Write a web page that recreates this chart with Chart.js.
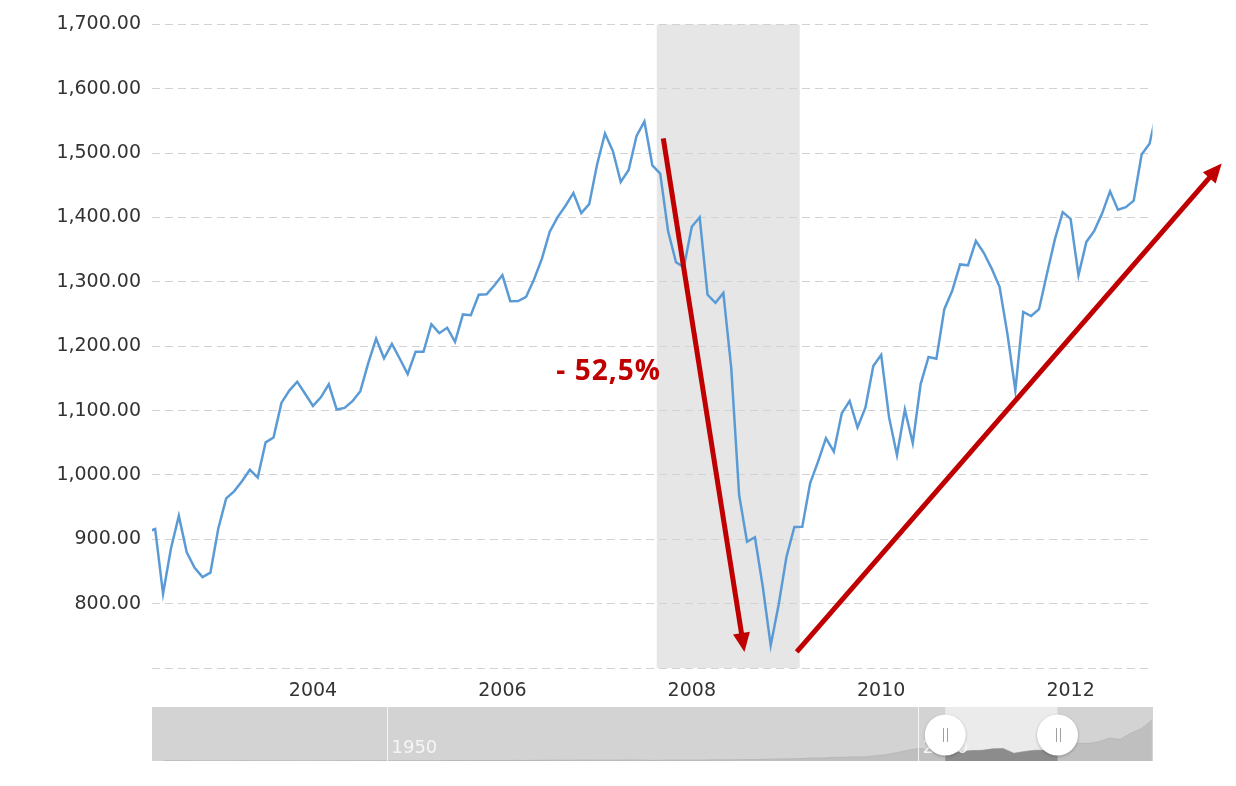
<!DOCTYPE html>
<html><head><meta charset="utf-8">
<script src="https://cdn.jsdelivr.net/npm/chart.js@4.4.1/dist/chart.umd.min.js"></script>
<style>
html,body{margin:0;padding:0;background:#fff;width:1236px;height:786px;overflow:hidden}
#main{position:absolute;left:0;top:0}
#nav{position:absolute;left:152px;top:707px}
</style></head><body>
<canvas id="main" width="1236" height="786"></canvas>
<canvas id="nav" width="1001" height="54"></canvas>
<script>
// ---- Monthly S&P 500 closes (first series starts July 2002) ----
const firstYear = 2002;
const firstMonth = 7;
const close2002 = [911.62, 916.07, 815.28, 885.76, 936.31, 879.82];
const close2003 = [855.70, 841.15, 848.18, 916.92, 963.59, 974.50, 990.31, 1008.01, 995.97, 1050.71, 1058.20, 1111.92];
const close2004 = [1131.13, 1144.94, 1126.21, 1107.30, 1120.68, 1140.84, 1101.72, 1104.24, 1114.58, 1130.20, 1173.82, 1211.92];
const close2005 = [1181.27, 1203.60, 1180.59, 1156.85, 1191.50, 1191.33, 1234.18, 1220.33, 1228.81, 1207.01, 1249.48, 1248.29];
const close2006 = [1280.08, 1280.66, 1294.87, 1310.61, 1270.09, 1270.20, 1276.66, 1303.82, 1335.85, 1377.94, 1400.63, 1418.30];
const close2007 = [1438.24, 1406.82, 1420.86, 1482.37, 1530.62, 1503.35, 1455.27, 1473.99, 1526.75, 1549.38, 1481.14, 1468.36];
const close2008 = [1378.55, 1330.63, 1322.70, 1385.59, 1400.38, 1280.00, 1267.38, 1282.83, 1166.36, 968.75, 896.24, 903.25];
const close2009 = [825.88, 735.09, 797.87, 872.81, 919.14, 919.32, 987.48, 1020.62, 1057.08, 1036.19, 1095.63, 1115.10];
const close2010 = [1073.87, 1104.49, 1169.43, 1186.69, 1089.41, 1030.71, 1101.60, 1049.33, 1141.20, 1183.26, 1180.55, 1257.64];
const close2011 = [1286.12, 1327.22, 1325.83, 1363.61, 1345.20, 1320.64, 1292.28, 1218.89, 1131.42, 1253.30, 1246.96, 1257.60];
const close2012 = [1312.41, 1365.68, 1408.47, 1397.91, 1310.33, 1362.16, 1379.32, 1406.58, 1440.67, 1412.16, 1416.18, 1426.19];
const close2013 = [1498.11, 1514.68, 1569.19];

// axis ticks
const yTickValues = [700, 800, 900, 1000, 1100, 1200, 1300, 1400, 1500, 1600, 1700];
const xTickYears = [2004, 2006, 2008, 2010, 2012];
const tickOffset = 0.25;           // labels sit a quarter year after Jan 1
const viewMin = 2002.55, viewMax = 2013.115;

// recession band and annotations
const recessionStart = 2007.88, recessionEnd = 2009.39;
const arrowDown = { from: [2007.949, 1523], to: [2008.806, 725] };
const arrowUp = { from: [2009.358, 725], to: [2013.846, 1484] };
const dropLabel = { text: '- 52,5%', at: [2006.82, 1147.6] };

// ---- Navigator: yearly closes (year-end) ----
const navStart = 1928;
const nav1920s = [24.35, 21.45];
const nav1930s = [15.34, 8.12, 6.89, 10.10, 9.50, 13.43, 17.18, 10.55, 13.21, 12.49];
const nav1940s = [10.58, 8.69, 9.77, 11.67, 13.28, 17.36, 15.30, 15.30, 15.20, 16.76];
const nav1950s = [20.41, 23.77, 26.57, 24.81, 35.98, 45.48, 46.67, 39.99, 55.21, 59.89];
const nav1960s = [58.11, 71.55, 63.10, 75.02, 84.75, 92.43, 80.33, 96.47, 103.86, 92.06];
const nav1970s = [92.15, 102.09, 118.05, 97.55, 68.56, 90.19, 107.46, 95.10, 96.11, 107.94];
const nav1980s = [135.76, 122.55, 140.64, 164.93, 167.24, 211.28, 242.17, 247.08, 277.72, 353.40];
const nav1990s = [330.22, 417.09, 435.71, 466.45, 459.27, 615.93, 740.74, 970.43, 1229.23, 1469.25];
const nav2000s = [1320.28, 1148.08, 879.82, 1111.92, 1211.92, 1248.29, 1418.30, 1468.36, 903.25, 1115.10];
const nav2010s = [1257.64, 1257.60, 1426.19, 1848.36, 2058.90, 2043.94, 2238.83, 2673.61, 2506.85, 3230.78];
const nav2020s = [3756.07, 4766.18];
const navTickYears = [1950, 2000];
const navMin = 1927.9, navMax = 2022.1;

// ---- build points ----
const mainPoints = [];
{
  let yr = firstYear, mo = firstMonth;
  [close2002, close2003, close2004, close2005, close2006, close2007, close2008,
   close2009, close2010, close2011, close2012, close2013].forEach(arr => arr.forEach(v => {
     mainPoints.push({ x: yr + (mo - 1) / 12, y: v });
     mo++; if (mo > 12) { mo = 1; yr++; }
  }));
}
const navPoints = [];
{
  let yr = navStart;
  [nav1920s, nav1930s, nav1940s, nav1950s, nav1960s, nav1970s, nav1980s, nav1990s,
   nav2000s, nav2010s, nav2020s].forEach(arr => arr.forEach(v => {
     navPoints.push({ x: yr + 1, y: v }); yr++;
  }));
}

const RED = '#c00000';
const AXIS_FONT = { family: '"DejaVu Sans", Verdana, sans-serif', size: 19 };

function drawArrow(ctx, x1, y1, x2, y2) {
  const ang = Math.atan2(y2 - y1, x2 - x1);
  const headLen = 19, headHalf = 8.5;
  const bx = x2 - headLen * Math.cos(ang), by = y2 - headLen * Math.sin(ang);
  ctx.save();
  ctx.strokeStyle = RED; ctx.lineWidth = 5; ctx.lineCap = 'butt';
  ctx.beginPath(); ctx.moveTo(x1, y1);
  ctx.lineTo(bx + 2 * Math.cos(ang), by + 2 * Math.sin(ang)); ctx.stroke();
  ctx.fillStyle = RED; ctx.beginPath();
  ctx.moveTo(x2, y2);
  ctx.lineTo(bx + headHalf * Math.sin(ang), by - headHalf * Math.cos(ang));
  ctx.lineTo(bx - headHalf * Math.sin(ang), by + headHalf * Math.cos(ang));
  ctx.closePath(); ctx.fill();
  ctx.restore();
}

const shadePlugin = {
  id: 'shade',
  beforeDraw(chart) {
    const { ctx, chartArea, scales: { x } } = chart;
    const x0 = x.getPixelForValue(recessionStart), x1 = x.getPixelForValue(recessionEnd);
    ctx.save();
    ctx.fillStyle = '#e6e6e6';
    ctx.fillRect(x0, chartArea.top, x1 - x0, chartArea.bottom - chartArea.top);
    ctx.restore();
  }
};
const annotatePlugin = {
  id: 'annotate',
  afterDraw(chart) {
    const { ctx, scales: { x, y } } = chart;
    [arrowDown, arrowUp].forEach(a => drawArrow(ctx,
      x.getPixelForValue(a.from[0]), y.getPixelForValue(a.from[1]),
      x.getPixelForValue(a.to[0]), y.getPixelForValue(a.to[1])));
    ctx.save();
    ctx.fillStyle = RED;
    ctx.font = 'bold 28px "Open Sans", sans-serif';
    try { ctx.letterSpacing = '1px'; } catch (e) {}
    ctx.textBaseline = 'alphabetic'; ctx.textAlign = 'left';
    ctx.fillText(dropLabel.text, x.getPixelForValue(dropLabel.at[0]), y.getPixelForValue(dropLabel.at[1]));
    ctx.restore();
  }
};

new Chart(document.getElementById('main'), {
  type: 'line',
  data: { datasets: [{ data: mainPoints, borderColor: '#5b9bd5', borderWidth: 2.5,
    pointRadius: 0, tension: 0, fill: false }] },
  options: {
    responsive: false, animation: false,
    layout: { padding: { left: 0, right: 83.5, top: 24.5, bottom: 0 } },
    plugins: { legend: { display: false }, tooltip: { enabled: false } },
    scales: {
      x: {
        type: 'linear', min: viewMin, max: viewMax,
        grid: { display: false, drawTicks: false }, border: { display: false },
        afterBuildTicks: s => { s.ticks = xTickYears.map(v => ({ value: v + tickOffset })); },
        ticks: { callback: v => String(Math.round(v - tickOffset)), font: AXIS_FONT, color: '#333333',
          padding: 12, maxRotation: 0, autoSkip: false },
        afterFit: s => { s.height = 118; }
      },
      y: {
        min: 700, max: 1700,
        afterBuildTicks: s => { s.ticks = yTickValues.map(v => ({ value: v })); },
        ticks: { callback: v => v === 700 ? '' : v.toLocaleString('en-US', { minimumFractionDigits: 2, maximumFractionDigits: 2 }),
          font: AXIS_FONT, color: '#333333', padding: 11 },
        grid: { color: '#d2d2d2', lineWidth: 1, drawTicks: false },
        border: { display: false, dash: [8, 5] },
        afterFit: s => { s.width = 152; }
      }
    }
  },
  plugins: [shadePlugin, annotatePlugin]
});

const navPlugin = {
  id: 'navDeco',
  beforeDraw(chart) {
    const { ctx, scales: { x } } = chart;
    ctx.save();
    ctx.fillStyle = '#d3d3d3'; ctx.fillRect(0, 0, chart.width, chart.height);
    const s0 = x.getPixelForValue(viewMin), s1 = x.getPixelForValue(viewMax);
    ctx.fillStyle = '#ebebeb'; ctx.fillRect(s0, 0, s1 - s0, chart.height);
    ctx.restore();
  },
  afterDatasetsDraw(chart) {
    // darker copy of the area inside the selected window, traced from the dataset's own points
    const { ctx, chartArea, scales: { x } } = chart;
    const pts = chart.getDatasetMeta(0).data;
    const s0 = x.getPixelForValue(viewMin), s1 = x.getPixelForValue(viewMax);
    ctx.save();
    ctx.beginPath(); ctx.rect(s0, 0, s1 - s0, chart.height); ctx.clip();
    ctx.beginPath();
    ctx.moveTo(pts[0].x, chartArea.bottom);
    pts.forEach(p => ctx.lineTo(p.x, p.y));
    ctx.lineTo(pts[pts.length - 1].x, chartArea.bottom);
    ctx.closePath();
    ctx.fillStyle = '#8c8c8c'; ctx.fill();
    ctx.restore();
  },
  afterDraw(chart) {
    const { ctx, scales: { x } } = chart;
    ctx.save();
    navTickYears.forEach(yv => {
      const px = Math.round(x.getPixelForValue(yv)) + 0.5;
      ctx.strokeStyle = '#f4f4f4'; ctx.lineWidth = 1;
      ctx.beginPath(); ctx.moveTo(px, 0); ctx.lineTo(px, chart.height); ctx.stroke();
      ctx.fillStyle = '#f6f6f6';
      ctx.font = '18px "DejaVu Sans", Verdana, sans-serif';
      ctx.textBaseline = 'alphabetic'; ctx.textAlign = 'left';
      ctx.fillText(String(yv), px + 4, 46);
    });
    [viewMin, viewMax].forEach(v => {
      const cx = x.getPixelForValue(v), cy = 28;
      ctx.save();
      ctx.shadowColor = 'rgba(0,0,0,0.25)'; ctx.shadowBlur = 3; ctx.shadowOffsetY = 1;
      ctx.fillStyle = '#ffffff';
      ctx.beginPath(); ctx.arc(cx, cy, 20.5, 0, Math.PI * 2); ctx.fill();
      ctx.restore();
      ctx.strokeStyle = '#a0a0a0'; ctx.lineWidth = 1;
      ctx.beginPath();
      ctx.moveTo(Math.round(cx) - 1.5, cy - 7); ctx.lineTo(Math.round(cx) - 1.5, cy + 7);
      ctx.moveTo(Math.round(cx) + 2.5, cy - 7); ctx.lineTo(Math.round(cx) + 2.5, cy + 7);
      ctx.stroke();
    });
    ctx.restore();
  }
};

new Chart(document.getElementById('nav'), {
  type: 'line',
  data: { datasets: [
    { data: navPoints, fill: 'origin', backgroundColor: '#bfbfbf', borderColor: '#b8b8b8', borderWidth: 1, pointRadius: 0, tension: 0 }
  ] },
  options: {
    responsive: false, animation: false,
    layout: { padding: 0 },
    plugins: { legend: { display: false }, tooltip: { enabled: false } },
    scales: {
      x: { type: 'linear', display: false, min: navMin, max: navMax },
      y: { display: false, min: 0, max: 6300 }
    }
  },
  plugins: [navPlugin]
});
</script>
</body></html>
